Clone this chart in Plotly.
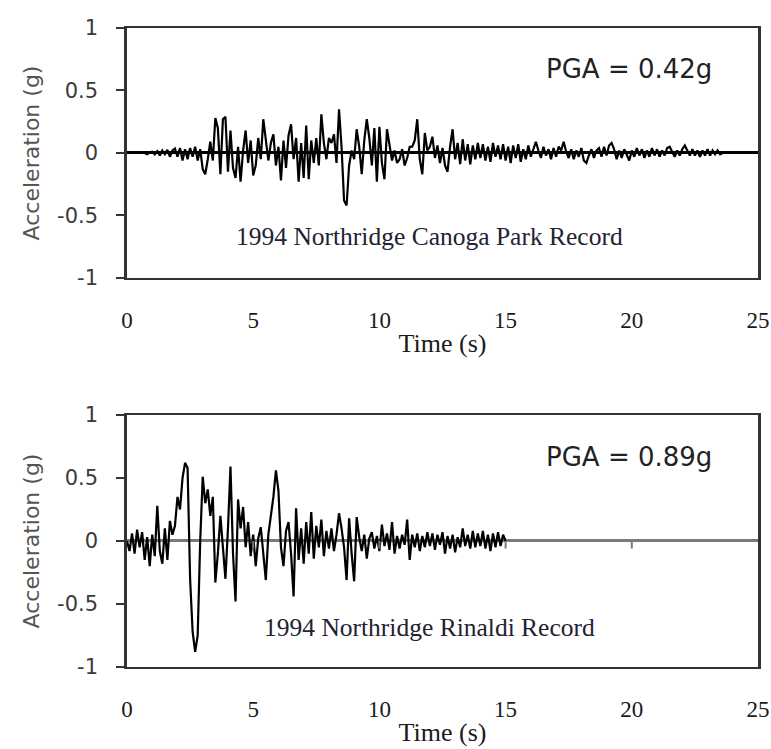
import plotly.graph_objects as go

# ---------------- data ----------------
DT = 0.1  # sampling interval of the digitised records (s)

canoga_park_acc = [
    0.0, 0.0, 0.0, 0.0, 0.0, 0.0, 0.0, 0.0, -0.01, 0.005,
    0.01, -0.01, 0.015, -0.02, 0.02, -0.01, 0.025, -0.03, 0.02, 0.035,
    -0.03, 0.04, -0.06, 0.03, -0.05, 0.04, -0.03, 0.05, -0.06, 0.03,
    -0.13, -0.17, -0.05, 0.09, -0.06, 0.28, 0.2, -0.17, 0.27, 0.29,
    -0.15, 0.18, -0.12, -0.2, 0.05, -0.23, 0.02, 0.18, -0.08, 0.1,
    -0.18, -0.1, 0.12, -0.05, 0.27, 0.1, -0.06, 0.08, 0.15, -0.1,
    0.05, -0.22, 0.1, -0.12, 0.14, 0.23, -0.05, 0.12, -0.23, 0.08,
    -0.2, 0.22, -0.21, 0.1, -0.08, 0.12, -0.1, 0.31, 0.08, -0.05,
    0.12, 0.08, 0.15, -0.08, 0.35, 0.05, -0.38, -0.42, -0.1, 0.02,
    -0.05, 0.19, 0.05, -0.17, 0.1, 0.27, 0.12, -0.1, 0.2, -0.23,
    0.21, -0.08, -0.21, 0.19, 0.06, -0.06, 0.02, -0.08, -0.05, 0.03,
    -0.1, -0.04, 0.05, 0.05, 0.1, 0.27, -0.05, -0.17, 0.16, 0.02,
    0.05, 0.13, -0.04, 0.06, -0.08, 0.04, -0.1, -0.15, 0.05, 0.19,
    -0.05, 0.08, -0.09, 0.11, -0.06, 0.07, -0.09, 0.06, -0.05, 0.08,
    -0.04, 0.07, -0.06, 0.05, -0.07, 0.08, -0.03, 0.06, -0.05, 0.07,
    -0.06, 0.05, -0.08, 0.06, -0.04, 0.07, -0.07, 0.03, -0.05, 0.06,
    -0.03, 0.04, 0.09, 0.02, -0.04, 0.05, -0.02, 0.03, -0.05, 0.04,
    -0.03, 0.05, 0.02, 0.09, 0.01, -0.04, 0.03, -0.05, 0.02, -0.03,
    0.04, -0.06, -0.08, -0.02, 0.03, -0.04, 0.02, 0.04, -0.03, 0.05,
    -0.02, 0.06, 0.08, 0.03, -0.05, 0.02, -0.04, 0.03, -0.02, -0.06,
    0.02, -0.03, 0.04, -0.02, 0.03, -0.04, 0.02, -0.03, 0.04, -0.02,
    0.03, -0.03, 0.02, -0.02, 0.04, 0.05, 0.01, -0.03, 0.02, -0.02,
    0.03, 0.06, 0.02, -0.02, 0.03, -0.02, 0.02, -0.03, 0.02, -0.02,
    0.03, -0.02, 0.02, -0.01, 0.02, -0.01, 0.0,
]

rinaldi_acc = [
    0.0, -0.08, 0.06, -0.1, 0.09, -0.05, 0.07, -0.15, 0.03, -0.2,
    0.05, -0.12, 0.28, -0.08, -0.18, 0.1, -0.15, 0.16, 0.05, 0.12,
    0.35, 0.25, 0.5, 0.62, 0.58, -0.3, -0.72, -0.88, -0.75, 0.0,
    0.51, 0.3, 0.41, 0.2, 0.35, -0.33, -0.1, 0.2, -0.05, -0.3,
    0.1, 0.59, -0.1, -0.48, 0.33, 0.1, 0.27, -0.05, 0.15, -0.12,
    0.05, -0.2, 0.02, 0.11, -0.1, -0.31, 0.05, 0.2, 0.35, 0.56,
    0.4, -0.05, -0.2, 0.08, 0.15, -0.1, -0.44, 0.26, -0.15, 0.1,
    -0.18, 0.15, -0.1, 0.23, -0.14, 0.12, -0.05, 0.17, -0.12, 0.08,
    -0.06, 0.1, -0.08, 0.05, 0.22, 0.1, -0.05, -0.31, 0.18, -0.1,
    -0.32, 0.19, 0.03, -0.08, 0.05, -0.14, 0.02, 0.07, -0.06, 0.04,
    -0.08, 0.13, -0.04, 0.06, -0.07, 0.15, -0.1, 0.04, -0.06, 0.05,
    -0.03, 0.17, -0.15, 0.05, -0.05, 0.06, -0.08, 0.04, -0.05, 0.07,
    -0.04, 0.06, -0.07, 0.05, -0.03, 0.07, -0.1, 0.04, -0.06, 0.05,
    -0.09, 0.03, -0.05, 0.1, -0.04, 0.05, -0.06, 0.08, -0.05, 0.06,
    -0.04, 0.08, -0.06, 0.05, -0.08, 0.06, -0.05, 0.07, -0.04, 0.05,
    0.0,
]

canoga_time = [round(i * DT, 2) for i in range(len(canoga_park_acc))]
rinaldi_time = [round(i * DT, 2) for i in range(len(rinaldi_acc))]

X_TICKS = [0, 5, 10, 15, 20, 25]
Y_TICKS = [-1, -0.5, 0, 0.5, 1]
Y_TICK_TEXT = ["-1", "-0.5", "0", "0.5", "1"]

record_labels = ["1994 Northridge Canoga Park Record", "1994 Northridge Rinaldi Record"]
pga_labels = ["PGA = 0.42g", "PGA = 0.89g"]

# ---------------- figure ----------------
SANS = "DejaVu Sans, Verdana, Arial, sans-serif"
SERIF = "Liberation Serif, Times New Roman, serif"
FRAME = "#333333"

fig = go.Figure()
fig.add_trace(go.Scatter(x=canoga_time, y=canoga_park_acc, mode="lines",
                         line=dict(color="black", width=2.2), xaxis="x", yaxis="y",
                         showlegend=False))
fig.add_trace(go.Scatter(x=rinaldi_time, y=rinaldi_acc, mode="lines",
                         line=dict(color="black", width=2.2), xaxis="x2", yaxis="y2",
                         showlegend=False))

def xaxis_cfg(anchor):
    return dict(
        range=[0, 25], tickvals=X_TICKS, ticktext=[str(v) for v in X_TICKS],
        showgrid=False, zeroline=False, showline=True, linecolor=FRAME, linewidth=2,
        mirror=True, ticks="", ticklabelstandoff=20,
        tickfont=dict(family=SERIF, size=23, color="#1a1a1a"),
        title=dict(text="Time (s)", font=dict(family=SERIF, size=26, color="#1a1a1a"),
                   standoff=2),
        anchor=anchor, automargin=False,
    )

def yaxis_cfg(domain, anchor, zerocolor):
    return dict(
        domain=domain, range=[-1, 1], tickvals=Y_TICKS, ticktext=Y_TICK_TEXT,
        showgrid=False, zeroline=True, zerolinecolor=zerocolor, zerolinewidth=2.5,
        showline=True, linecolor=FRAME, linewidth=2.5, mirror=True,
        ticks="outside", ticklen=8, tickwidth=2, tickcolor=FRAME, ticklabelstandoff=14,
        tickfont=dict(family=SANS, size=21, color="#3a3a3a"),
        title=dict(text="Acceleration (g)", font=dict(family=SANS, size=22, color="#555555"),
                   standoff=12),
        anchor=anchor, automargin=False,
    )

fig.update_layout(
    width=771, height=749,
    margin=dict(l=127, r=13, t=28, b=82),
    paper_bgcolor="white", plot_bgcolor="white",
    xaxis=xaxis_cfg("y"),
    yaxis=yaxis_cfg([0.6088, 1.0], "x", "black"),
    xaxis2=xaxis_cfg("y2"),
    yaxis2=yaxis_cfg([0.0, 0.3944], "x2", "#7a7a7a"),
)

# record name and PGA annotations
for i, (xr, yr) in enumerate([("x", "y"), ("x2", "y2")]):
    fig.add_annotation(x=12.0, y=-0.665 if i == 0 else -0.69, xref=xr, yref=yr,
                       text=record_labels[i], showarrow=False,
                       font=dict(family=SERIF, size=25.5, color="#222233"))
    fig.add_annotation(x=19.9, y=0.67, xref=xr, yref=yr,
                       text=pga_labels[i], showarrow=False,
                       font=dict(family=SANS, size=26, color="#222222"))

# small tick marks where the horizontal axis crosses at zero (visible only where no trace)
for v in X_TICKS[1:-1]:
    fig.add_shape(type="line", xref="x2", yref="y2", x0=v, x1=v, y0=0, y1=-0.06,
                  line=dict(color="#7a7a7a", width=2))

fig.write_html("out.html")
